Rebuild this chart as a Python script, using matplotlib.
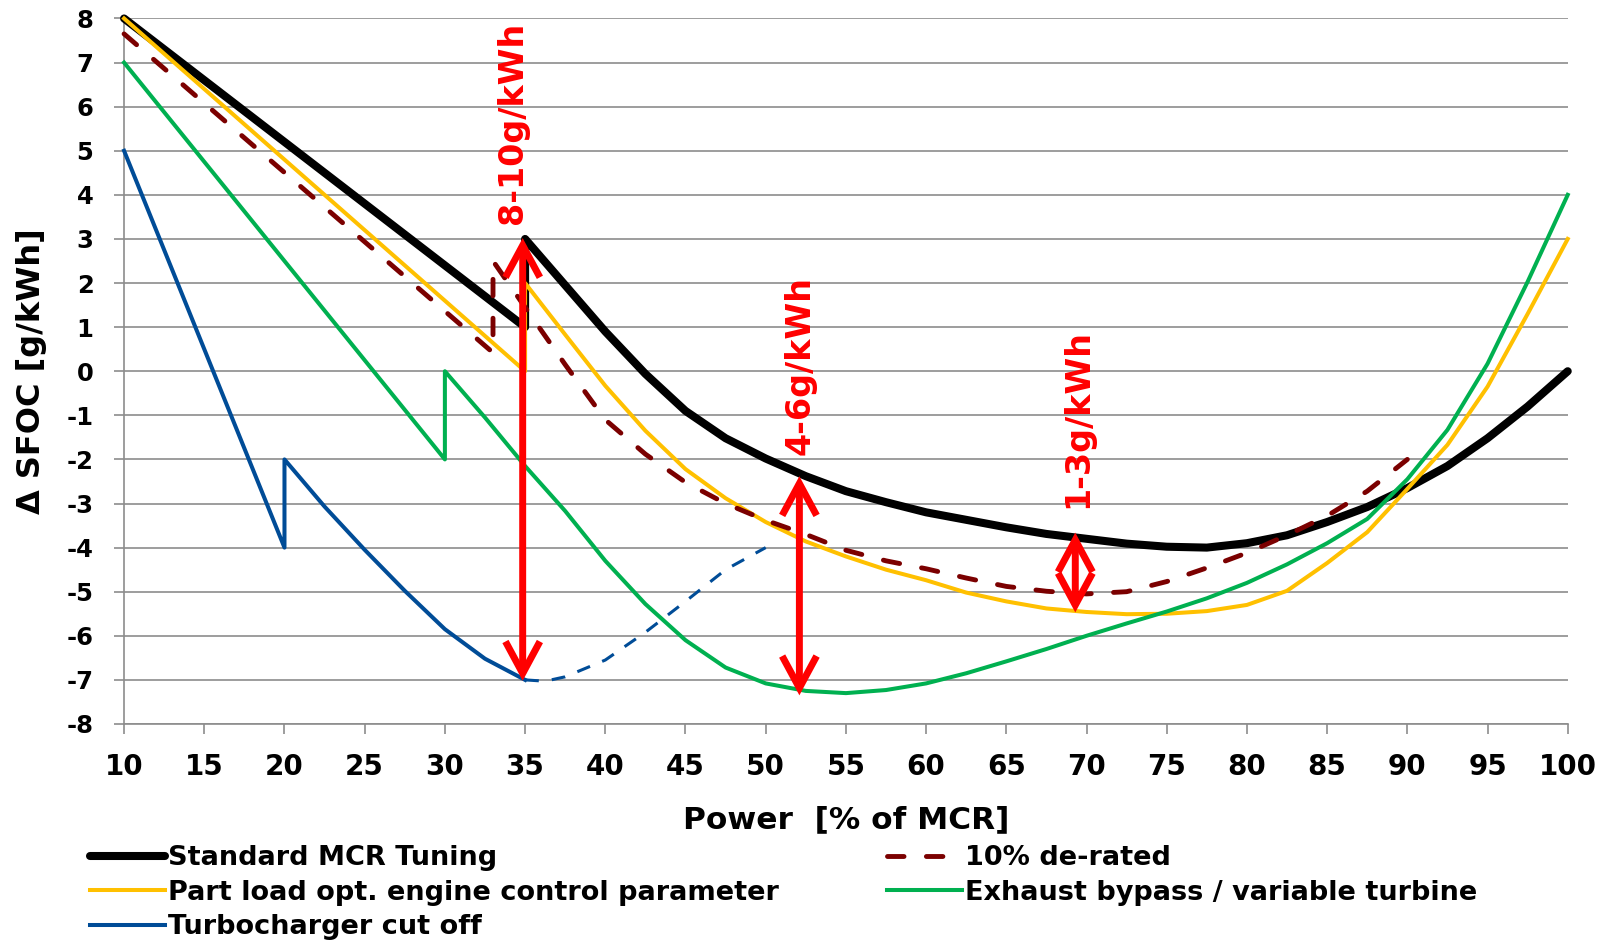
import matplotlib.pyplot as plt

plt.rcParams['font.family'] = ['DejaVu Sans']
plt.rcParams['font.weight'] = 'bold'
plt.rcParams['axes.unicode_minus'] = False

# Standard MCR Tuning
std_x = [10, 35, 35, 37.5, 40, 42.5, 45, 47.5, 50, 52.5, 55, 57.5, 60, 62.5, 65,
         67.5, 70, 72.5, 75, 77.5, 80, 82.5, 85, 87.5, 90, 92.5, 95, 97.5, 100]
std_y = [8, 1, 3, 1.95, 0.9, -0.06, -0.9, -1.52, -1.98, -2.38, -2.72, -2.97, -3.2, -3.37, -3.54,
         -3.69, -3.8, -3.91, -3.98, -4.0, -3.9, -3.72, -3.42, -3.08, -2.65, -2.15, -1.52, -0.8, 0]

# 10% de-rated
der_x = [10, 33, 33, 35, 37.5, 40, 42.5, 45, 47.5, 50, 52.5, 55, 57.5, 60, 62.5,
         65, 67.5, 70, 72.5, 75, 77.5, 80, 82.5, 85, 87.5, 90]
der_y = [7.65, 0.42, 2.5, 1.45, 0.15, -1.1, -1.88, -2.52, -3.0, -3.38, -3.7, -4.06, -4.3, -4.48, -4.69,
         -4.88, -4.99, -5.05, -5.0, -4.77, -4.46, -4.12, -3.72, -3.28, -2.72, -2.0]

# Part load opt. engine control parameter
part_x = [10, 35, 35, 37.5, 40, 42.5, 45, 47.5, 50, 52.5, 55, 57.5, 60, 62.5, 65,
          67.5, 70, 72.5, 75, 77.5, 80, 82.5, 85, 87.5, 90, 92.5, 95, 97.5, 100]
part_y = [8, 0, 2, 0.83, -0.33, -1.35, -2.22, -2.88, -3.42, -3.86, -4.2, -4.5, -4.74, -5.02, -5.22,
          -5.38, -5.46, -5.51, -5.5, -5.44, -5.3, -4.98, -4.35, -3.65, -2.67, -1.67, -0.35, 1.3, 3.0]

# Exhaust bypass / variable turbine
exh_x = [10, 30, 30, 32.5, 35, 37.5, 40, 42.5, 45, 47.5, 50, 52.5, 55, 57.5, 60, 62.5,
         65, 67.5, 70, 72.5, 75, 77.5, 80, 82.5, 85, 87.5, 90, 92.5, 95, 97.5, 100]
exh_y = [7, -2, 0, -1.05, -2.15, -3.17, -4.3, -5.28, -6.1, -6.72, -7.08, -7.25, -7.3, -7.23, -7.08, -6.85,
         -6.58, -6.3, -6.0, -5.72, -5.45, -5.15, -4.8, -4.38, -3.9, -3.35, -2.45, -1.33, 0.17, 2.03, 4.0]

# Turbocharger cut off (solid part and dashed continuation)
tc_x = [10, 20, 20, 22.5, 25, 27.5, 30, 32.5, 35]
tc_y = [5, -4, -2, -3.07, -4.05, -4.98, -5.85, -6.52, -7.0]
tc_ext_x = [35, 36.25, 37.5, 40, 42.5, 45, 47.5, 50]
tc_ext_y = [-7.0, -7.03, -6.93, -6.55, -5.92, -5.22, -4.5, -4.0]

# red range markers
arrow_x = [34.85, 52.1, 69.3]
arrow_lo = [-7.02, -7.35, -5.47]
arrow_hi = [3.02, -2.38, -3.66]
arrow_text = ['8-10g/kWh', '4-6g/kWh', '1-3g/kWh']
text_x = [34.2, 52.17, 69.45]
text_y = [3.35, -1.89, -3.11]

GRAY = '#8c8c8c'

fig = plt.figure(figsize=(16.03, 9.47), dpi=100)
ax = fig.add_axes([0.0774, 0.2355, 0.9006, 0.745])

std, = ax.plot(std_x, std_y, color='black', lw=5.8, solid_joinstyle='round',
               solid_capstyle='round', zorder=3, clip_on=False, label='Standard MCR Tuning')
part, = ax.plot(part_x, part_y, color='#ffc000', lw=2.9, solid_joinstyle='round',
                zorder=4, clip_on=False, label='Part load opt. engine control parameter')
exh, = ax.plot(exh_x, exh_y, color='#00b050', lw=2.9, solid_joinstyle='round',
               zorder=5, clip_on=False, label='Exhaust bypass / variable turbine')
der, = ax.plot(der_x, der_y, color='#7b0000', lw=3.5, dashes=(3.4, 4.6),
               dash_capstyle='round', zorder=6, clip_on=False, label='10% de-rated')
tc, = ax.plot(tc_x, tc_y, color='#004c97', lw=2.9, solid_joinstyle='round',
              zorder=6, clip_on=False, label='Turbocharger cut off')
ax.plot(tc_ext_x, tc_ext_y, color='#004c97', lw=2.2, dashes=(4.5, 4.3), zorder=6)

for x, lo, hi in zip(arrow_x, arrow_lo, arrow_hi):
    ax.annotate('', xy=(x, hi), xytext=(x, lo),
                arrowprops=dict(arrowstyle='<->,head_length=1.15,head_width=0.62',
                                color='#ff0000', lw=5, shrinkA=0, shrinkB=0,
                                mutation_scale=20, joinstyle='miter', capstyle='butt'),
                zorder=8)
for x, y, s in zip(text_x, text_y, arrow_text):
    ax.text(x, y, s, rotation=90, ha='center', va='bottom', color='#ff0000',
            fontsize=24, fontweight='bold', zorder=9)

ax.set_xlim(10, 100)
ax.set_ylim(-8, 8)
ax.set_xticks(range(10, 101, 5))
ax.set_yticks(range(-8, 9))
ax.yaxis.grid(True, color=GRAY, lw=1.2)
ax.set_axisbelow(True)
for side in ['top', 'right']:
    ax.spines[side].set_visible(False)
for side in ['left', 'bottom']:
    ax.spines[side].set_color(GRAY)
    ax.spines[side].set_linewidth(1.2)
ax.tick_params(axis='x', direction='out', length=7, width=1.2, color=GRAY, pad=14, labelsize=20)
ax.tick_params(axis='y', direction='out', length=7, width=1.2, color=GRAY, pad=15, labelsize=17.5)

ax.set_xlabel('Power  [% of MCR]', fontsize=22.5, fontweight='bold', va='center')
ax.xaxis.set_label_coords(0.5, -0.136)
ax.set_ylabel('Δ SFOC [g/kWh]', fontsize=23, fontweight='bold', va='center')
ax.yaxis.set_label_coords(-0.0644, 0.5)

leg_kw = dict(loc='upper left', bbox_transform=fig.transFigure, frameon=False, fontsize=19.5,
              handlelength=2.78, handletextpad=0.12, labelspacing=0.31,
              borderpad=0, borderaxespad=0)
leg1 = ax.legend(handles=[std, part, tc], bbox_to_anchor=(0.0561, 0.1075), **leg_kw)
ax.add_artist(leg1)
ax.legend(handles=[der, exh], bbox_to_anchor=(0.5533, 0.1075), **leg_kw)

plt.savefig('out.png', dpi=100)
